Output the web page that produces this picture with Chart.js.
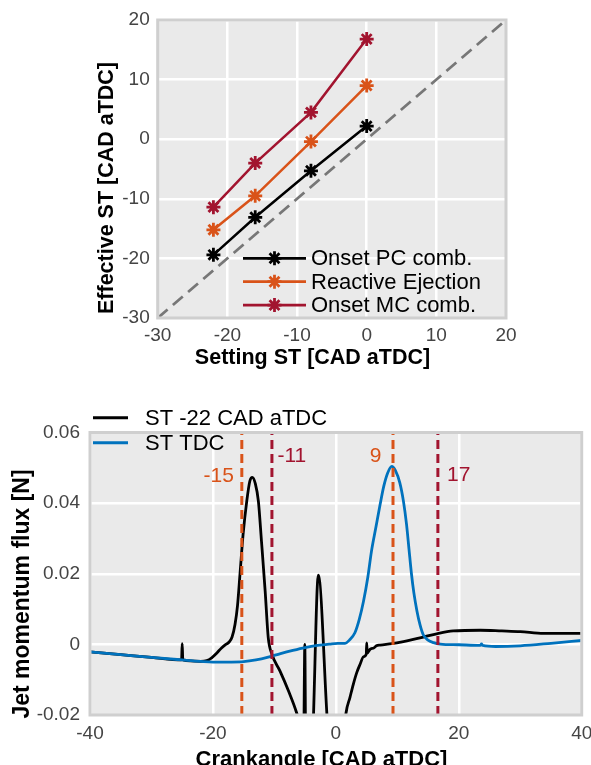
<!DOCTYPE html>
<html>
<head>
<meta charset="utf-8">
<script src="https://cdn.jsdelivr.net/npm/chart.js@4.4.0/dist/chart.umd.min.js"></script>
<style>
  body { margin: 0; background: #fff; }
  canvas { position: absolute; left: 0; }
  #top { top: 0; }
  #bottom { top: 380px; }
</style>
</head>
<body>
<canvas id="top" width="591" height="380"></canvas>
<canvas id="bottom" width="591" height="385"></canvas>
<script>
// top chart: effective vs setting spark timing
const settingST = [-22, -16, -8, 0];
const onsetPC = [-19.4, -13.1, -5.3, 2.2];
const reactiveEjection = [-15.2, -9.5, -0.4, 9.0];
const onsetMC = [-11.4, -4.0, 4.5, 16.8];
const diagonal = [-30, 20];
const stTicks = [-30, -20, -10, 0, 10, 20];
const stTickLabels = ['-30', '-20', '-10', '0', '10', '20'];

// bottom chart: jet momentum flux
const st22Angle = [-40, -35, -30, -25.1, -25.0, -24.9, -22, -21, -20.2, -19.4, -18.6, -17.9, -17.4, -16.9, -16.4, -16.0,
  -15.6, -15.1, -14.5, -14.0, -13.6, -13.1, -12.6, -12.1, -11.5, -11.0, -10.4, -9.1, -7.7, -6.4, -5.7, -5.25, -5.05, -4.9,
  -3.95, -2.85, -1.45, -1.1, 0, 1.3, 1.65, 2.3, 2.84, 3.4, 3.93, 4.5, 4.95, 5.02, 5.1, 5.56, 6.2, 6.6, 7.2, 9.1, 11, 12.6,
  14.5, 16.4, 19.1, 23.5, 27, 30, 33.8, 40];
const st22Flux = [-0.0021, -0.0029, -0.0037, -0.0044, 0.0002, -0.0044, -0.0048, -0.0046, -0.0038, -0.0025, -0.0010, 0.0000, 0.0006, 0.0020, 0.0057, 0.0110,
  0.0198, 0.0310, 0.0405, 0.0462, 0.0473, 0.0455, 0.0405, 0.0292, 0.0151, 0.0019, -0.0028, -0.0075, -0.0132, -0.0193, -0.0240, -0.0300, 0.0000, -0.0300,
  -0.0300, 0.0196, -0.0200, -0.0300, -0.0330, -0.0260, -0.0195, -0.0150, -0.0113, -0.0080, -0.0057, -0.0035, -0.0028, 0.0004, -0.0025, -0.0014, -0.0010, -0.0004, -0.0002, 0.0002, 0.0008, 0.0014,
  0.0022, 0.0030, 0.0038, 0.0040, 0.0038, 0.0036, 0.0031, 0.0031];
const tdcAngle = [-40, -35, -30, -25, -22, -20, -17, -15, -13, -11, -9, -7, -5, -3, -1, 0.3, 1.5, 2.2, 3.1, 3.8, 4.5, 5.2, 5.8, 6.5, 7.2,
  7.8, 8.4, 9.1, 9.7, 10.4, 11.0, 11.5, 11.9, 12.3, 12.7, 13.2, 13.7, 14.2, 15.0, 15.9, 17, 20, 23.5, 23.7, 23.9, 26, 30, 35, 40];
const tdcFlux = [-0.0021, -0.0029, -0.0037, -0.0044, -0.0048, -0.0050, -0.0050, -0.0049, -0.0044, -0.0036, -0.0026, -0.0017, -0.0009, -0.0003, 0.0001,
  0.0003, 0.0003, 0.0012, 0.0033, 0.0070, 0.0122, 0.0190, 0.0264, 0.0330, 0.0396, 0.0448, 0.0484, 0.0504, 0.0492, 0.0458, 0.0405, 0.0340, 0.0270,
  0.0200, 0.0145, 0.0094, 0.0055, 0.0028, 0.0012, 0.0005, 0.0001, -0.0001, -0.0003, 0.0001, -0.0003, -0.0006, -0.0004, 0.0003, 0.0011];
const markAngles = [-15.3, -10.4, 9.3, 16.6];
const markLabels = ['-15', '-11', '9', '17'];
const angleTicks = [-40, -20, 0, 20, 40];
const angleTickLabels = ['-40', '-20', '0', '20', '40'];
const fluxTicks = [-0.02, 0, 0.02, 0.04, 0.06];
const fluxTickLabels = ['-0.02', '0', '0.02', '0.04', '0.06'];

const FONT = '"Liberation Sans", Arial, sans-serif';
const ORANGE = '#D95319', RED = '#A2142F', BLUE = '#0072BD';

const zip = (xs, ys) => xs.map((x, i) => ({ x: x, y: ys[i] }));

// background, frame, titles, legend and text marks
const decor = {
  id: 'decor',
  beforeDraw(chart, args, o) {
    const { ctx, chartArea: a } = chart;
    ctx.save();
    ctx.fillStyle = '#EAEAEA';
    ctx.fillRect(a.left, a.top, a.width, a.height);
    ctx.restore();
  },
  afterDatasetsDraw(chart, args, o) {
    const { ctx, chartArea: a } = chart;
    ctx.save();
    ctx.strokeStyle = '#CFCFCF';
    ctx.lineWidth = 3;
    ctx.strokeRect(a.left, a.top, a.width, a.height);
    ctx.restore();
  },
  afterDraw(chart, args, o) {
    const ctx = chart.ctx;
    (o.titles || []).forEach(t => {
      ctx.save();
      ctx.translate(t.x, t.y);
      ctx.rotate(t.rot || 0);
      ctx.font = 'bold ' + t.size + 'px ' + FONT;
      ctx.fillStyle = '#000';
      ctx.textAlign = 'center';
      ctx.textBaseline = 'middle';
      ctx.fillText(t.text, 0, 0);
      ctx.restore();
    });
    if (o.legend) {
      const lg = o.legend;
      const items = chart.data.datasets.filter(d => d.label);
      items.forEach((d, i) => {
        const y = lg.y + i * lg.gap;
        ctx.save();
        ctx.strokeStyle = d.borderColor;
        ctx.lineWidth = lg.lineWidth;
        ctx.beginPath();
        ctx.moveTo(lg.x0, y);
        ctx.lineTo(lg.x1, y);
        ctx.stroke();
        if (d.pointStyle) {
          ctx.lineWidth = d.pointBorderWidth;
          Chart.helpers.drawPoint(ctx, { pointStyle: d.pointStyle, radius: d.pointRadius, borderWidth: d.pointBorderWidth, rotation: 0 },
            (lg.x0 + lg.x1) / 2, y);
        }
        ctx.fillStyle = '#000';
        ctx.font = lg.size + 'px ' + FONT;
        ctx.textAlign = 'left';
        ctx.textBaseline = 'middle';
        ctx.fillText(d.label, lg.tx, y + 1);
        ctx.restore();
      });
    }
    if (o.notes) {
      const sx = chart.scales.x, sy = chart.scales.y;
      o.notes.forEach(n => {
        ctx.save();
        ctx.font = '21px ' + FONT;
        ctx.fillStyle = n.color;
        ctx.textAlign = n.align;
        ctx.textBaseline = 'middle';
        ctx.fillText(n.text, sx.getPixelForValue(n.x), sy.getPixelForValue(n.y));
        ctx.restore();
      });
    }
  }
};

function axis(ticks, labels, min, max, opts) {
  return {
    type: 'linear', min: min, max: max,
    grid: { color: '#FFFFFF', lineWidth: 2.5, drawTicks: false },
    border: { display: false },
    afterBuildTicks: s => { s.ticks = ticks.map(v => ({ value: v })); },
    ticks: {
      padding: opts.padding,
      color: '#444',
      font: { family: FONT, size: 19 },
      callback: (v, i) => labels[i]
    },
    afterFit: s => {
      if (opts.width !== undefined) s.width = opts.width;
      if (opts.height !== undefined) s.height = opts.height;
      s.paddingLeft = 0; s.paddingRight = 0; s.paddingTop = 0; s.paddingBottom = 0;
    }
  };
}

const star = { showLine: true, borderWidth: 2.5, pointStyle: 'star', pointRadius: 7, pointBorderWidth: 2.8 };

new Chart(document.getElementById('top'), {
  type: 'scatter',
  data: {
    datasets: [
      Object.assign({ label: 'Onset PC comb.', data: zip(settingST, onsetPC), borderColor: '#000', backgroundColor: '#000' }, star),
      Object.assign({ label: 'Reactive Ejection', data: zip(settingST, reactiveEjection), borderColor: ORANGE, backgroundColor: ORANGE }, star),
      Object.assign({ label: 'Onset MC comb.', data: zip(settingST, onsetMC), borderColor: RED, backgroundColor: RED }, star),
      { data: zip(diagonal, diagonal), showLine: true, borderColor: '#777', borderWidth: 2.8, borderDash: [13, 7],
        pointRadius: 0, order: 5 }
    ]
  },
  options: {
    responsive: false, animation: false, devicePixelRatio: 1,
    layout: { padding: { left: 0, right: 85, top: 20, bottom: 0 } },
    scales: {
      x: axis(stTicks, stTickLabels, -30, 20, { height: 62, padding: 6.5 }),
      y: axis(stTicks, stTickLabels, -30, 20, { width: 157.7, padding: 8 })
    },
    plugins: {
      legend: { display: false },
      tooltip: { enabled: false },
      decor: {
        titles: [
          { text: 'Setting ST [CAD aTDC]', x: 312.5, y: 358, size: 21.5 },
          { text: 'Effective ST [CAD aTDC]', x: 107, y: 188, size: 21.5, rot: -Math.PI / 2 }
        ],
        legend: { x0: 243, x1: 306, tx: 311, y: 258.3, gap: 23.4, size: 22, lineWidth: 2.8 }
      }
    }
  },
  plugins: [decor]
});

const markColors = [ORANGE, RED, ORANGE, RED];
new Chart(document.getElementById('bottom'), {
  type: 'scatter',
  data: {
    datasets: [
      { label: 'ST -22 CAD aTDC', data: zip(st22Angle, st22Flux), showLine: true, borderColor: '#000', borderWidth: 2.8,
        pointRadius: 0, cubicInterpolationMode: 'monotone', order: 3 },
      { label: 'ST TDC', data: zip(tdcAngle, tdcFlux), showLine: true, borderColor: BLUE, borderWidth: 2.8,
        pointRadius: 0, cubicInterpolationMode: 'monotone', order: 2 }
    ].concat(markAngles.map((a, i) => ({
      data: [{ x: a, y: fluxTicks[0] }, { x: a, y: fluxTicks[fluxTicks.length - 1] }],
      showLine: true, borderColor: markColors[i], borderWidth: 3, borderDash: [9, 5], pointRadius: 0, order: 1
    })))
  },
  options: {
    responsive: false, animation: false, devicePixelRatio: 1,
    layout: { padding: { left: 0, right: 9.3, top: 52.5, bottom: 0 } },
    scales: {
      x: axis(angleTicks, angleTickLabels, -40, 40, { height: 50, padding: 7 }),
      y: axis(fluxTicks, fluxTickLabels, -0.02, 0.06, { width: 90, padding: 10 })
    },
    plugins: {
      legend: { display: false },
      tooltip: { enabled: false },
      decor: {
        titles: [
          { text: 'Crankangle [CAD aTDC]', x: 321.5, y: 380, size: 22 },
          { text: 'Jet momentum flux [N]', x: 22.5, y: 214, size: 23, rot: -Math.PI / 2 }
        ],
        legend: { x0: 93, x1: 128, tx: 145, y: 37.7, gap: 25, size: 22, lineWidth: 3 },
        notes: [
          { text: markLabels[0], x: -16.6, y: 0.0475, color: ORANGE, align: 'right' },
          { text: markLabels[1], x: -9.5, y: 0.0532, color: RED, align: 'left' },
          { text: markLabels[2], x: 7.4, y: 0.0532, color: ORANGE, align: 'right' },
          { text: markLabels[3], x: 18.1, y: 0.0479, color: RED, align: 'left' }
        ]
      }
    }
  },
  plugins: [decor]
});
</script>
</body>
</html>
